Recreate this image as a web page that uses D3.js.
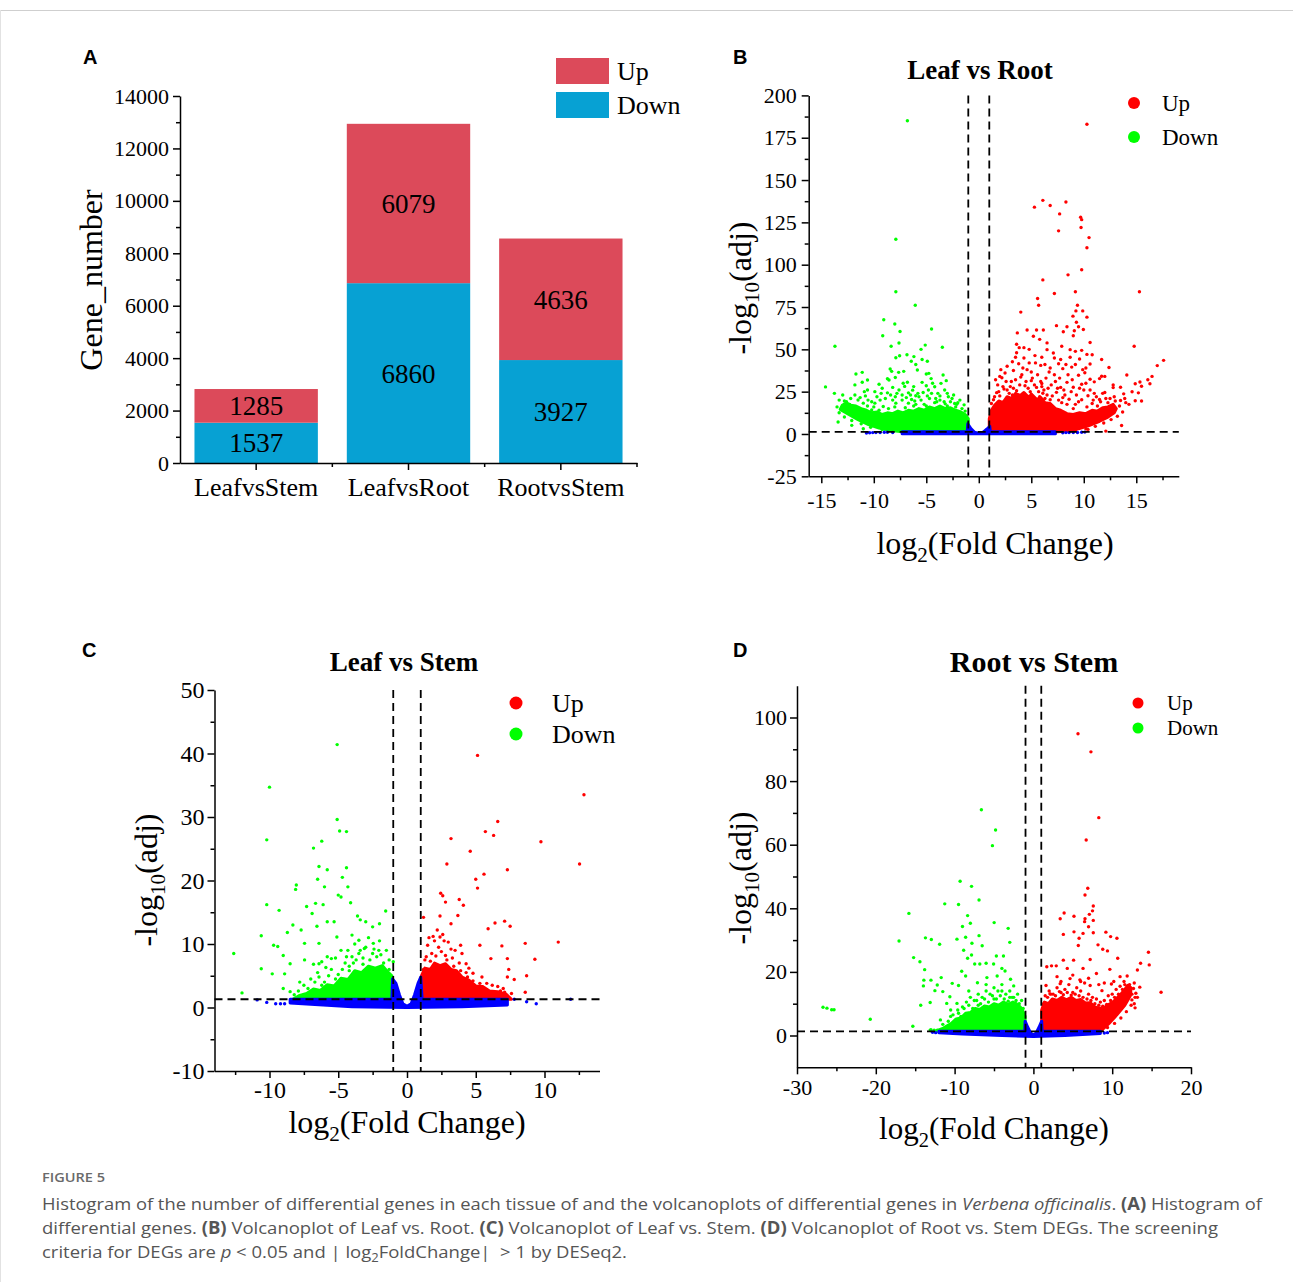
<!DOCTYPE html>
<html>
<head>
<meta charset="utf-8">
<script src="https://cdn.jsdelivr.net/npm/d3@7"></script>
<style>
  body { margin: 0; background: #fff; }
  svg { display: block; }
</style>
</head>
<body>
<svg id="fig" width="1293" height="1282"></svg>
<script>
// ---------- data: panel A (stacked bars) ----------
const barCategories = ["LeafvsStem", "LeafvsRoot", "RootvsStem"];
const barDown = [1537, 6860, 3927];
const barUp = [1285, 6079, 4636];
const barTicks = [0, 2000, 4000, 6000, 8000, 10000, 12000, 14000];
const barMinorTicks = [1000, 3000, 5000, 7000, 9000, 11000, 13000];

// ---------- data: panel B, Leaf vs Root ----------
const lrUp = [[10.3,183],[6.1,138],[5.3,134],[6.8,135],[8.3,137],[7.7,130],[9.7,128],[9.8,126.6],[9.74,122],[7.6,120],
  [10.5,116],[10.3,110],[9.8,97],[6.1,91],[8.5,94],[15.3,84],[7.2,83],[9.2,84],[5.6,80],[5.7,76],[9.4,76],[9.25,72.7],
  [9.9,72.7],[8.97,69.6],[10.3,69],[4.0,72],[14.8,51.8],[17.6,43.5],[17.0,40.4],[16.5,34],[16.1,32],[15.5,28.2],
  [15.35,30.7],[14.9,29.7],[15.5,19.5],[14.9,19.6],[14.1,34.8],[13.5,27.6],[12.8,27.4],[12.0,34],[11.5,32.7],[10.6,32.3],
  [12.4,39.3],[11.7,44],[10.8,46.8],[10.6,54],[13.6,5],[12.1,1.7],[10.4,2.7],[3.67,59.7],[4.6,61.4],[5.5,61.4],[6.15,61.4],
  [7.4,64],[8.4,63.3],[8.05,60.4],[9.1,61],[9.0,58],[3.6,53],[4.3,51],[6.5,53.8],[5.2,57.7],[2.7,40],[3.2,42.7],[2.0,34],
  [9.3,66],[9.5,63.3],[9.96,61.7],[5.8,55.9],[3.85,51],[4.8,50],[6.5,49.8],[7.1,47.8],[7.9,51.8],[8.7,49.8],[9.2,48.8],
  [9.8,49.4],[10.3,47],[3.5,45.3],[4.3,44.9],[5.35,46.3],[6.0,45.3],[7.2,44.9],[8.7,45.3],[9.6,44.3],[10.6,41.3],
  [3.3,37.5],[4.2,39],[5.0,36.6],[5.9,40.5],[6.7,36.6],[8.0,38.6],[8.85,39.5],[9.5,34.7],[10.1,36.2],[11.0,30.8],
  [11.7,34.1],[12.8,28.9],[16.3,29.7],[14.6,24.9],[15.2,24.3],[13.8,23.7],[2.2,33.2],[3.1,31],[4.0,33.6],[5.0,31.5],
  [6.0,29.8],[7.3,31],[8.4,30.5],[9.0,27.6],[9.8,29.4],[1.7,24.4],[2.4,26.6],[3.6,25.6],[4.9,25],[6.1,24.1],[7.4,24.6],
  [8.2,23],[10.4,22.6],[11.5,20.4],[12.3,18.5],[12.9,22],[1.4,20.2],[2.8,20.2],[4.2,20.2],[5.5,19.2],[6.8,20.2],
  [7.9,18.5],[9.2,17.5],[9.8,20.2],[2.0,22.5],[3.2,23],[4.5,22.5],[5.8,22],[7.0,22.5],[8.6,20.5],[9.5,19],[10.8,18],
  [11.3,16.5],[3.0,28],[4.4,28.5],[5.5,27.5],[6.6,27],[7.8,27.5],[8.8,25],[1.8,29],[2.5,36],[3.8,41.5],[4.8,42],
  [6.3,41],[7.6,41.5],[9.2,41],[10.2,39],[13.0,19.5],[13.9,21],[14.3,17.5],[12.0,24.5],[11.0,24],[10.0,26],
  [1.2,18],[1.5,22],[1.9,25],[2.3,28],[2.6,31],[2.9,24],[3.3,27],[3.5,32],[3.9,29],[4.1,35],[4.5,31],[4.7,27],
  [5.1,33],[5.3,29],[5.6,35],[5.9,31],[6.2,26],[6.4,33],[6.9,29],[7.2,35],[7.5,27],[7.7,33],[8.1,26],[8.5,35],
  [8.9,32],[9.3,23],[9.6,27],[10.2,30],[10.6,26],[11.2,22],[11.8,24],[12.5,21],[1.6,32],[2.1,38],[3.6,48],[4.6,38],
  [5.4,42],[6.8,39],[7.8,44],[8.3,41],[9.9,38],[3.4,20.5],[4.8,21.5],[6.3,21],[7.6,20],[8.4,17.5],[9.0,15],[10.3,16],
  [10.9,20],[11.6,19],[12.1,21],[2.4,19],[5.0,23.5],[6.5,23],[8.0,21.5],[3.8,23],[4.3,24],[5.7,25],[2.7,26],[6.0,28],
  [13.4,16.5],[13.7,13],[13.2,10.5],[12.6,8.5],[11.9,6.5],[11.1,4.5],[10.2,3],[9.2,2],[14.0,18.5],[13.5,19.8]];
const lrDown = [[-6.8,185],[-7.9,115],[-7.9,84],[-6.05,76],[-9.05,67.5],[-8.0,65],[-7.5,60.5],[-4.5,62],[-9.15,58],
  [-13.7,51.8],[-8.35,51.8],[-7.6,53.7],[-5.1,52.5],[-5.5,50],[-3.47,51.2],[-7.54,46.2],[-6.84,46.8],[-7.9,45],
  [-6.18,45.7],[-6.43,43],[-5.4,44],[-6.0,41],[-4.9,43],[-11.1,36.4],[-11.7,35.4],[-10.6,31.9],[-11.1,30.6],[-11.8,29],
  [-8.44,38.4],[-8.3,37],[-8.55,31.9],[-7.63,36.4],[-7.15,37],[-5.85,37.8],[-5.0,35.4],[-4.76,35.8],[-4.54,32.7],
  [-3.4,34.8],[-14.6,27.8],[-13.75,24],[-12.96,23],[-12.99,14.2],[-13.4,7.1],[-12.1,5.1],[-11.0,3.1],[-9.5,29.4],
  [-8.7,32.6],[-7.95,33.4],[-7.06,28.1],[-6.8,30.6],[-6.7,24.3],[-6.3,25.9],[-6.0,22.6],[-10.6,26],[-10.55,20],
  [-7.3,23],[-5.0,28.5],[-4.2,27.9],[-3.6,29.9],[-3.25,26],[-2.55,21],[-2.3,18],[-8.7,24.3],[-7.95,22],[-11.5,20.1],
  [-11.0,18.2],[-9.9,18.2],[-9.1,16.2],[-7.9,18.2],[-6.7,18.2],[-5.5,20],[-4.7,21],[-3.7,20],[-2.9,22],[-1.8,20],
  [-1.4,17.2],[-8.2,20],[-6.4,20.4],[-5.8,24],[-4.8,26],[-3.9,24],[-7.6,26],[-9.4,20],[-10.2,14.2],[-12.3,17.5],
  [-12.6,19],[-11.8,16],[-5.2,17.5],[-4.2,18.5],[-3.2,17.8],[-2.2,16],[-6.2,16.5],[-8.6,15],[-10.6,16.5],
  [-12.8,19.5],[-12.2,21],[-11.8,23],[-11.3,21.5],[-10.8,22.5],[-10.2,19],[-9.7,22],[-9.3,24],[-8.9,21],[-8.4,23],
  [-7.8,24],[-7.3,20],[-6.9,21.5],[-6.5,23],[-6.1,19.5],[-5.7,22],[-5.3,24.5],[-4.9,22.5],[-4.5,24],[-4.1,21],
  [-3.7,22.5],[-3.3,19],[-3.0,24],[-2.7,19],[-2.4,23],[-2.1,17.5],[-1.6,15],[-1.3,13.5],[-9.9,25],[-8.2,27.5],
  [-7.2,30],[-6.2,28],[-5.4,30.5],[-4.4,30],[-3.1,31.5],[-10.9,25],[-9.2,27],[-13.3,20],[-12.5,16.5],[-10.0,16],
  [-8.0,16],[-6.0,17.5],[-4.0,19],[-2.0,18.5],[-11.3,14.5],[-9.5,14],[-7.0,15.5],[-5.0,16.5],[-3.0,16.5],
  [-13.5,16],[-13.3,12.5],[-12.8,10],[-12.1,8],[-11.2,6],[-10.3,4],[-9.2,2.6],[-8.2,1.8]];
const lrNs = [[-10.7,0.6],[-10.4,0.7],[-10.1,0.8],[-9.8,0.8],[-9.4,0.9],[-9.0,1.0],[-8.7,1.0],[-8.2,0.9],
  [8.0,0.7],[8.3,0.8],[8.6,0.8],[9.0,0.9],[9.4,0.9],[9.8,1.0],[10.1,1.1]];
// outlines of the solid (fully overlapped) part of each cloud
const lrUpCore = [[1,1.3],[1,9],[1.2,14],[1.5,17],[1.9,19.5],[2.3,18.5],[2.7,22],[3.1,21],[3.5,24],[3.9,22.5],
  [4.3,24.5],[4.7,22],[5.1,23],[5.5,20.5],[5.9,21.5],[6.3,18.5],[6.8,18],[7.3,15],[7.8,14],[8.4,12],[9,11.5],
  [9.6,12.5],[10.2,12],[10.8,14],[11.3,13.5],[11.8,15.5],[12.3,16],[12.8,17.5],[13.1,15],[12.9,12.5],[12.3,10],
  [11.5,7.5],[10.5,5],[9.5,3],[8.5,1.8],[7.5,1.3]];
const lrDownCore = [[-13,17],[-12.6,18.5],[-12.2,17],[-11.7,16.5],[-11.2,15],[-10.7,14],[-10.2,12.5],[-9.7,13],
  [-9.2,11.5],[-8.7,12.5],[-8.2,12],[-7.7,13.5],[-7.2,12.5],[-6.7,14],[-6.2,13.5],[-5.7,15],[-5.2,14],[-4.7,16],
  [-4.2,15],[-3.7,16.5],[-3.2,15],[-2.7,15.5],[-2.2,14],[-1.7,13],[-1.3,11.5],[-1,9],[-1,1.3],[-7.3,1.3],[-8.5,2.2],
  [-9.5,3.5],[-10.5,5.5],[-11.5,8.5],[-12.5,12],[-13.2,14.5]];
const lrNsCore = [[-7.3,1.3],[-1.1,1.3],[-1.05,6],[-0.75,3.2],[-0.4,1],[0,0.3],[0.4,1],[0.75,2.8],[1.05,4.5],
  [1.1,1.3],[7.3,1.3],[7.3,0.2],[-7.3,0.2]];

// ---------- data: panel C, Leaf vs Stem ----------
const lsUp = [[5.13,39.7],[12.87,33.5],[12.55,22.6],[9.74,26.1],[11.0,10.3],[9.3,7.6],[8.6,10.1],[8.7,5.0],[8.6,2.4],
  [6.6,29.3],[5.7,27.7],[6.3,27.1],[3.2,26.6],[4.6,24.6],[2.9,22.6],[5.6,21],[5.0,20.2],[5.13,18.8],[7.3,21.7],
  [2.45,18],[2.6,17.6],[3.8,17],[4.1,16.1],[2.8,16.6],[1.2,14.2],[2.4,14.4],[3.7,14.5],[7.1,13.6],[6.4,13.3],
  [7.5,12.8],[5.9,12.4],[3.2,13.2],[1.9,11.2],[2.4,11.1],[3.0,10.3],[3.9,9.8],[5.3,9.8],[6.9,9.7],[6.1,7.7],[7.3,7.7],
  [7.4,6.0],[7.3,4.8],[7.8,4.4],[5.8,3.8],[6.6,3.3],[4.3,6.9],[4.8,5.4],[5.45,4.8],[1.3,7.5],[1.8,8.5],[2.3,9.5],
  [2.8,8.2],[3.3,7.8],[3.8,7],[4.3,5.5],[4.8,4.2],[5.3,3.8],[5.8,2.8],[6.2,3.5],[6.8,2.6],[1.5,9.8],[2.0,10.5],
  [2.6,11.5],[3.5,9],[4.0,8.5],[2.2,12.2],[7.0,3],[7.6,2.2],[1.2,6],[1.4,8],[1.7,7.3],[2.1,8.1],[2.5,8.8],[2.9,7.5],
  [3.4,6.5],[3.9,5.8],[4.4,4.8],[4.9,3.5],[5.5,3.2],[6.0,2.5],[6.5,2.2],[7.1,2.4],[1.6,11],[2.7,10.5],[3.2,9.2],
  [4.5,6.2]];
const lsDown = [[-5.08,41.4],[-10.0,34.7],[-10.2,26.4],[-5.08,29.6],[-4.9,27.8],[-4.4,27.7],[-6.2,26.2],[-6.8,25.1],
  [-6.4,22.2],[-5.8,21.7],[-4.4,22],[-4.7,20.5],[-6.5,20.2],[-8.05,19.3],[-8.1,18.6],[-6.0,19],[-4.3,19],[-5.0,17.7],
  [-4.8,17.4],[-4.1,16.5],[-10.2,16.2],[-7.3,15.9],[-6.65,16.4],[-6.1,16.2],[-1.55,15.2],[-9.3,15.3],[-6.9,14.8],
  [-5.3,13.5],[-3.6,14.4],[-3.4,13.8],[-3.0,13.5],[-8.3,13],[-7.7,12.2],[-6.55,12.8],[-5.8,13.5],[-2.5,12.7],
  [-2.0,13.2],[-10.6,11.3],[-9.7,9.8],[-9.4,9.6],[-8.7,11.8],[-7.45,10.1],[-6.4,10.1],[-5.1,11.1],[-4.0,11.4],
  [-3.5,10.6],[-12.6,8.5],[-9.0,8.2],[-10.6,6.1],[-9.8,5.3],[-12.0,2.3],[-8.9,5.3],[-8.5,6.9],[-7.45,7.5],[-6.4,6.9],
  [-5.5,7.7],[-4.3,9.0],[-3.1,9.3],[-2.05,9.0],[-2.45,10.1],[-1.0,7.2],[-7.5,3.5],[-7,4.5],[-6.5,5.5],[-6,4],
  [-5.5,6],[-5,5.2],[-4.5,7],[-4,8],[-3.5,8.5],[-3,9.5],[-2.5,8.5],[-2,10.5],[-1.5,9],[-1.3,7.5],[-6.8,6.8],[-5.8,8],
  [-4.8,9],[-3.8,10],[-2.8,11],[-7.8,4],[-8.5,2.5],[-9,3],[-6.2,7.2],[-5.2,7.8],[-4.2,5.8],[-3.2,6.8],
  [-7.2,3],[-6.7,4],[-6.2,3.5],[-5.7,5],[-5.2,4.5],[-4.7,6],[-4.2,6.5],[-3.7,7.5],[-3.2,7.8],[-2.7,7.5],[-2.2,8],
  [-1.7,7],[-1.3,6],[-7.9,2.6],[-8.2,2],[-6.4,4.8],[-5.9,6.3],[-4.4,8],[-3.4,9],[-2.4,9.2],[-1.9,8.3],[-3.9,7]];
const lsNs = [[-10.9,1.2],[-10.2,0.8],[-9.55,0.6],[-9.2,0.6],[-8.9,0.6],[7.8,1.3],[8.7,0.9],[9.4,0.6],[11.9,1.3]];
const lsUpCore = [[1.05,1.3],[1.05,5],[1.3,6.2],[1.7,6],[2.0,7],[2.4,6.6],[2.8,6.9],[3.2,6],[3.6,5.8],[4.0,4.8],
  [4.5,4.3],[5.0,3.4],[5.5,3.3],[6.0,2.6],[6.6,2.5],[7.2,2.1],[7.6,1.3]];
const lsDownCore = [[-8.3,1.3],[-7.8,1.9],[-7.3,2.2],[-6.8,2.9],[-6.3,2.7],[-5.8,3.6],[-5.3,3.4],[-4.8,4.6],
  [-4.3,4.4],[-3.8,5.8],[-3.3,5.5],[-2.8,6.5],[-2.3,6.2],[-1.8,6.6],[-1.4,5.6],[-1.1,5],[-1.05,1.3]];
const lsNsCore = [[-8.5,1.3],[-1.1,1.3],[-1.05,4.5],[-0.8,3.8],[-0.55,2],[-0.3,0.6],[0,0.2],[0.3,0.6],[0.55,2],
  [0.8,3.8],[1.0,4.8],[1.1,1.3],[7.3,1.3],[7.3,0.4],[4,0.1],[0,0],[-4,0.1],[-8.5,0.7]];

// ---------- data: panel D, Root vs Stem ----------
const rsUp = [[5.66,94.9],[7.3,89.2],[8.3,68.5],[6.7,61.5],[6.9,46.3],[6.55,44.2],[7.6,40.7],[7.5,39.2],[6.55,36.7],
  [6.5,35.8],[7.1,38.1],[3.9,38.5],[3.4,36.7],[5.15,37.5],[7.6,36.2],[7.0,34.2],[3.8,31.8],[5.15,32.6],[6.3,32.1],
  [7.6,32.3],[9.2,32.5],[9.8,31.1],[10.6,30.6],[5.8,30.6],[5.7,28.3],[8.2,28.5],[8.8,27.1],[9.4,26.6],[14.6,26.2],
  [14.7,22.2],[13.6,22.7],[13.2,20.6],[16.2,13.6],[10.7,24.3],[9.7,20.8],[11.0,18.5],[11.9,18.7],[12.8,16.5],
  [13.0,13.3],[12.5,11.2],[12.9,8.7],[1.7,21.6],[2.3,21.9],[2.9,21.9],[3.8,23.7],[4.3,21.1],[5.1,23.7],[6.3,21.1],
  [7.2,23.9],[8.0,19.5],[1.6,15.7],[2.1,13.1],[3.4,16.3],[4.65,17.9],[5.9,17.5],[7.2,15.7],[8.7,14.1],[9.9,16.2],
  [1.6,8.3],[1.5,12.5],[2,14],[2.5,13],[3,15],[3.5,13.5],[4,14.5],[4.5,16],[5,13.5],[5.5,15],[6,14],[6.5,16.5],
  [7,13],[7.5,12],[8,11.5],[8.5,10.5],[9,11],[9.5,12.5],[10,13],[10.5,14.5],[11,15.5],[11.5,17],[12,14.5],[12.5,13],
  [3,18.5],[5,19],[7,18],[9,16.5],[10.2,17],[12.8,10],[13.2,12],[1.3,10],[1.8,12],[2.2,13],[2.8,12.5],[3.3,13.8],
  [3.8,12.8],[4.3,13.5],[4.8,12.7],[5.3,13],[5.8,12.5],[6.3,12],[6.8,11.5],[7.3,11],[7.8,10],[8.3,9.5],[8.8,9.2],
  [9.3,9.8],[9.8,11],[10.3,12],[10.8,13],[11.3,14.5],[11.6,16],[12.2,16],[3.5,17],[6,17],[8.3,16],
  [12.7,14.8],[12.9,12],[12.4,9.5],[11.8,7.5],[11.1,5.5],[10.3,3.8],[9.4,2.5],[13.5,15.2]];
const rsDown = [[-6.6,71],[-4.8,64.6],[-5.2,59.7],[-9.3,48.5],[-7.85,46.9],[-6.9,42.6],[-11.25,41.4],[-9.5,41.2],
  [-15.8,38.4],[-8.35,37.7],[-8.0,35.3],[-9.0,34.3],[-4.98,35.5],[-3.2,33.7],[-17.05,29.7],[-13.7,30.7],[-12.95,30.2],
  [-11.9,28.7],[-9.7,30.3],[-8.6,30.9],[-6.9,31.4],[-7.8,29],[-6.5,28.2],[-3.0,29.3],[-15.2,24.5],[-14.4,23.2],
  [-13.8,20.7],[-8.85,26.8],[-8.35,24.3],[-7.85,25.3],[-7.45,22.5],[-9.1,20.2],[-6.8,22.5],[-6.0,22.7],[-4.7,25],
  [-3.8,25],[-5.05,22.5],[-4.0,21.1],[-13.9,17.4],[-13.0,17.4],[-11.7,18.2],[-13.96,15.6],[-12.5,14.1],[-12.2,15.9],
  [-11.5,13.8],[-10.3,16.4],[-9.5,15.7],[-14.3,9.5],[-13.1,10.4],[-15.3,2.9],[-20.7,5.1],[-26.7,8.9],[-26.2,8.6],
  [-25.6,8.1],[-25.3,8.1],[-11.8,4.9],[-11.0,10.1],[-10.6,12.2],[-8.6,18.7],[-7.1,16.6],[-5.9,18.2],[-4.6,18.7],
  [-3.6,20.3],[-2.9,17.7],[-2.5,15.6],[-10.5,8.0],[-9.7,10.1],[-13.1,1.7],[-12.2,1.7],[-13,1.8],[-12.6,1.7],
  [-11.8,1.6],[-11.4,1.5],[-10.5,6],[-9.5,7],[-9,9],[-8.5,10.5],[-8,12],[-7.5,11],[-7,13],[-6.5,12],[-6,14],
  [-5.5,13],[-5,15],[-4.5,14],[-4,16],[-3.5,13],[-3,14],[-2.5,12],[-2,13],[-1.5,11],[-7,9.5],[-5,11.5],[-3,12],
  [-11.5,3.5],[-10,4],[-10.8,4.5],[-10.2,6.5],[-9.6,8],[-9.2,6],[-8.8,8.5],[-8.2,9.5],[-7.7,8.5],[-7.2,11],
  [-6.7,10],[-6.2,11.5],[-5.7,10.5],[-5.2,12.5],[-4.7,11.5],[-4.2,12.5],[-3.7,11.5],[-3.2,10.8],[-2.7,12],[-2.2,11],
  [-1.8,10],[-1.3,8.5],[-6,16],[-4,14],[-8.2,14]];
const rsNs = [[-12.8,1.0],[-12.4,0.9],[9.0,0.8],[9.4,0.9]];
const rsUpCore = [[1.05,1.3],[1.05,8],[1.4,10.5],[1.9,10],[2.4,11.5],[3,11],[3.6,12],[4.2,11.2],[4.8,12],[5.4,11],
  [6,11.3],[6.6,10.2],[7.2,10.3],[7.8,9],[8.4,8.6],[9,8.8],[9.6,9.8],[10.1,10.5],[10.6,11.8],[11.1,13],[11.6,14.5],
  [12,15.8],[12.4,15],[12.3,12.5],[11.6,9.5],[10.6,6.5],[9.6,3.8],[8.5,1.3]];
const rsDownCore = [[-12.5,1.3],[-11.5,2.2],[-11,3],[-10.4,3.8],[-9.8,5.2],[-9.2,5.5],[-8.6,7],[-8,7.2],[-7.4,8.5],
  [-6.8,8.2],[-6.2,9.3],[-5.6,9],[-5,10],[-4.4,9.5],[-3.8,10.5],[-3.2,9.8],[-2.6,10.5],[-2,9.8],[-1.5,8.5],[-1.05,6],
  [-1.05,1.3]];
const rsNsCore = [[-12,1.3],[-1.1,1.3],[-1.05,4.5],[-0.7,2.5],[-0.35,0.8],[0,0.2],[0.35,0.8],[0.7,2.5],[1.05,4.5],
  [1.1,1.3],[8.5,1.3],[8.5,0.6],[4,0],[0,-0.3],[-4,0],[-9,0.5],[-12,0.9]];

// ---------- drawing ----------
const SERIF = "'Liberation Serif','Times New Roman',serif";
const SANS = "'Liberation Sans',Arial,sans-serif";
const RED = "#ff0000", GREEN = "#00ff00", BLUE = "#0000ff";
const BAR_RED = "#dc4a5a", BAR_BLUE = "#07a1d3";
const PVAL = 1.3; // -log10(0.05)

const svg = d3.select("#fig");

// page frame
svg.append("line").attr("x1", 0).attr("x2", 1293).attr("y1", 10.5).attr("y2", 10.5)
  .attr("stroke", "#cfcfcf").attr("stroke-width", 1);
svg.append("line").attr("x1", 0.5).attr("x2", 0.5).attr("y1", 10).attr("y2", 1282)
  .attr("stroke", "#e2e2e2").attr("stroke-width", 1);

function styleAxis(sel, fs) {
  sel.attr("font-family", SERIF).attr("font-size", fs);
  sel.select(".domain").attr("stroke-width", 1.5);
  sel.selectAll(".tick line").attr("stroke-width", 1.5);
  sel.selectAll(".tick text").attr("fill", "#000").attr("font-family", SERIF).attr("font-size", fs);
}

function panelLetter(txt, x, y) {
  svg.append("text").attr("x", x).attr("y", y).attr("font-family", SANS).attr("font-weight", "bold")
    .attr("font-size", 20).text(txt);
}

// panel A
(function () {
  const x = d3.scaleBand().domain(barCategories).range([180, 637]).paddingInner(0.19).paddingOuter(0.095);
  const y = d3.scaleLinear().domain([0, 14000]).range([463, 96]);
  const rows = barCategories.map((c, i) => ({ c: c, down: barDown[i], up: barUp[i] }));
  const g = svg.append("g");

  g.selectAll("rect.down").data(rows).join("rect").attr("class", "down")
    .attr("x", d => x(d.c)).attr("width", x.bandwidth())
    .attr("y", d => y(d.down)).attr("height", d => y(0) - y(d.down)).attr("fill", BAR_BLUE);
  g.selectAll("rect.up").data(rows).join("rect").attr("class", "up")
    .attr("x", d => x(d.c)).attr("width", x.bandwidth())
    .attr("y", d => y(d.down + d.up)).attr("height", d => y(d.down) - y(d.down + d.up)).attr("fill", BAR_RED);

  g.selectAll("text.vd").data(rows).join("text").attr("class", "vd")
    .attr("x", d => x(d.c) + x.bandwidth() / 2).attr("y", d => (y(0) + y(d.down)) / 2)
    .attr("dy", "0.35em").attr("text-anchor", "middle")
    .attr("font-family", SERIF).attr("font-size", 27).text(d => d.down);
  g.selectAll("text.vu").data(rows).join("text").attr("class", "vu")
    .attr("x", d => x(d.c) + x.bandwidth() / 2).attr("y", d => (y(d.down) + y(d.down + d.up)) / 2)
    .attr("dy", "0.35em").attr("text-anchor", "middle")
    .attr("font-family", SERIF).attr("font-size", 27).text(d => d.up);

  g.append("g").attr("transform", "translate(180,0)")
    .call(d3.axisLeft(y).tickValues(barMinorTicks).tickSize(4).tickFormat(""))
    .call(s => s.select(".domain").remove())
    .call(s => styleAxis(s, 22));
  g.append("g").attr("transform", "translate(180,0)")
    .call(d3.axisLeft(y).tickValues(barTicks).tickSize(7).tickSizeOuter(0).tickPadding(4).tickFormat(d => String(d)))
    .call(s => styleAxis(s, 22));

  // boundary ticks between categories
  const bounds = d3.range(1, barCategories.length + 1).map(k => x.range()[0] + k * x.step());
  g.selectAll("line.bt").data(bounds).join("line").attr("class", "bt")
    .attr("x1", d => d).attr("x2", d => d).attr("y1", y(0)).attr("y2", y(0) + 4)
    .attr("stroke", "#000").attr("stroke-width", 1.5);
  g.append("g").attr("transform", `translate(0,${y(0)})`)
    .call(d3.axisBottom(x).tickSize(7).tickSizeOuter(0).tickPadding(8))
    .call(s => styleAxis(s, 26));

  g.append("text").attr("transform", "translate(102,280) rotate(-90)").attr("text-anchor", "middle")
    .attr("font-family", SERIF).attr("font-size", 32).text("Gene_number");

  // legend
  const leg = [{ k: "Up", c: BAR_RED, y: 58 }, { k: "Down", c: BAR_BLUE, y: 92 }];
  g.selectAll("rect.lg").data(leg).join("rect").attr("class", "lg")
    .attr("x", 556).attr("y", d => d.y).attr("width", 53).attr("height", 26).attr("fill", d => d.c);
  g.selectAll("text.lg").data(leg).join("text").attr("class", "lg")
    .attr("x", 617).attr("y", d => d.y + 22).attr("font-family", SERIF).attr("font-size", 26).text(d => d.k);

  panelLetter("A", 83, 64);
})();

function xTitle(cx, by, fs) {
  const t = svg.append("text").attr("x", cx).attr("y", by).attr("text-anchor", "middle")
    .attr("font-family", SERIF).attr("font-size", fs);
  t.append("tspan").text("log");
  t.append("tspan").attr("font-size", fs * 0.66).attr("dy", fs * 0.25).text("2");
  t.append("tspan").attr("dy", -fs * 0.25).text("(Fold Change)");
}
function yTitle(bx, cy, fs) {
  const t = svg.append("text").attr("transform", `translate(${bx},${cy}) rotate(-90)`).attr("text-anchor", "middle")
    .attr("font-family", SERIF).attr("font-size", fs);
  t.append("tspan").text("-log");
  t.append("tspan").attr("font-size", fs * 0.66).attr("dy", fs * 0.25).text("10");
  t.append("tspan").attr("dy", -fs * 0.25).text("(adj)");
}

function volcano(c) {
  const x = d3.scaleLinear().domain(c.xDomain).range(c.xRange);
  const y = d3.scaleLinear().domain(c.yDomain).range(c.yRange);
  const g = svg.append("g");
  const shape = d3.line().x(d => x(d[0])).y(d => y(d[1])).curve(d3.curveLinearClosed);

  function cloud(core, pts, col) {
    g.append("path").datum(core).attr("d", shape).attr("fill", col)
      .attr("stroke", col).attr("stroke-width", 3).attr("stroke-linejoin", "round");
    g.append("g").selectAll("circle").data(pts).join("circle")
      .attr("cx", d => x(d[0])).attr("cy", d => y(d[1])).attr("r", 1.7).attr("fill", col);
  }
  cloud(c.downCore, c.down, GREEN);
  cloud(c.upCore, c.up, RED);
  cloud(c.nsCore, c.ns, BLUE);

  // thresholds
  const dash = "8,5";
  g.selectAll("line.vt").data([-1, 1]).join("line").attr("class", "vt")
    .attr("x1", d => x(d)).attr("x2", d => x(d)).attr("y1", c.yRange[1]).attr("y2", c.yRange[0])
    .attr("stroke", "#000").attr("stroke-width", 1.8).attr("stroke-dasharray", dash);
  g.append("line").attr("x1", c.xRange[0]).attr("x2", c.xRange[1]).attr("y1", y(PVAL)).attr("y2", y(PVAL))
    .attr("stroke", "#000").attr("stroke-width", 1.8).attr("stroke-dasharray", dash);

  // axes
  const x0 = c.xRange[0], y0 = c.yRange[0];
  g.append("g").attr("transform", `translate(${x0},0)`)
    .call(d3.axisLeft(y).tickValues(c.yMinor).tickSize(4).tickFormat(""))
    .call(s => s.select(".domain").remove()).call(s => styleAxis(s, c.fs));
  g.append("g").attr("transform", `translate(${x0},0)`)
    .call(d3.axisLeft(y).tickValues(c.yTicks).tickSize(7).tickSizeOuter(0).tickPadding(c.yPad).tickFormat(d => String(d)))
    .call(s => styleAxis(s, c.fs));
  g.append("g").attr("transform", `translate(0,${y0})`)
    .call(d3.axisBottom(x).tickValues(c.xMinor).tickSize(4).tickFormat(""))
    .call(s => s.select(".domain").remove()).call(s => styleAxis(s, c.fs));
  g.append("g").attr("transform", `translate(0,${y0})`)
    .call(d3.axisBottom(x).tickValues(c.xTicks).tickSize(7).tickSizeOuter(0).tickPadding(c.xPad).tickFormat(d => String(d)))
    .call(s => styleAxis(s, c.fs));

  // title
  svg.append("text").attr("x", c.title[1]).attr("y", c.title[2]).attr("text-anchor", "middle")
    .attr("font-family", SERIF).attr("font-weight", "bold").attr("font-size", c.title[3]).text(c.title[0]);

  // legend
  const L = c.legend;
  const items = [{ k: "Up", col: RED }, { k: "Down", col: GREEN }];
  const lg = svg.append("g");
  lg.selectAll("circle").data(items).join("circle")
    .attr("cx", L.x).attr("cy", (d, i) => L.y + i * L.gap).attr("r", L.r).attr("fill", d => d.col);
  lg.selectAll("text").data(items).join("text")
    .attr("x", L.tx).attr("y", (d, i) => L.y + i * L.gap).attr("dy", "0.35em")
    .attr("font-family", SERIF).attr("font-size", L.fs).text(d => d.k);

  xTitle(c.xt[0], c.xt[1], c.xt[2]);
  yTitle(c.yt[0], c.yt[1], c.yt[2]);
}

volcano({
  xDomain: [-16.2, 19.05], xRange: [808.7, 1178.8],
  yDomain: [-25, 200], yRange: [476.3, 95.4],
  xTicks: [-15, -10, -5, 0, 5, 10, 15], xMinor: [-12.5, -7.5, -2.5, 2.5, 7.5, 12.5, 17.5],
  yTicks: [-25, 0, 25, 50, 75, 100, 125, 150, 175, 200],
  yMinor: [-12.5, 12.5, 37.5, 62.5, 87.5, 112.5, 137.5, 162.5, 187.5],
  fs: 22, xPad: 9, yPad: 5,
  up: lrUp, down: lrDown, ns: lrNs, upCore: lrUpCore, downCore: lrDownCore, nsCore: lrNsCore,
  title: ["Leaf vs Root", 980, 79, 27],
  legend: { x: 1134, y: 103, gap: 34, r: 6, tx: 1162, fs: 23 },
  xt: [995, 554, 32], yt: [751, 288, 32]
});
panelLetter("B", 733, 64);

volcano({
  xDomain: [-14, 14], xRange: [214.5, 599.5],
  yDomain: [-10, 50], yRange: [1071, 690],
  xTicks: [-10, -5, 0, 5, 10], xMinor: [-12.5, -7.5, -2.5, 2.5, 7.5, 12.5],
  yTicks: [-10, 0, 10, 20, 30, 40, 50], yMinor: [-5, 5, 15, 25, 35, 45],
  fs: 24, xPad: 3, yPad: 3,
  up: lsUp, down: lsDown, ns: lsNs, upCore: lsUpCore, downCore: lsDownCore, nsCore: lsNsCore,
  title: ["Leaf vs Stem", 404, 671, 27],
  legend: { x: 516, y: 703, gap: 31, r: 6.5, tx: 552, fs: 26 },
  xt: [407, 1133, 32], yt: [157, 880, 32]
});
panelLetter("C", 82, 657);

volcano({
  xDomain: [-30, 20], xRange: [797, 1191],
  yDomain: [-10, 110], yRange: [1067.3, 685.7],
  xTicks: [-30, -20, -10, 0, 10, 20], xMinor: [-25, -15, -5, 5, 15],
  yTicks: [0, 20, 40, 60, 80, 100], yMinor: [10, 30, 50, 70, 90],
  fs: 22, xPad: 5, yPad: 3,
  up: rsUp, down: rsDown, ns: rsNs, upCore: rsUpCore, downCore: rsDownCore, nsCore: rsNsCore,
  title: ["Root vs Stem", 1034, 672, 30],
  legend: { x: 1138, y: 703, gap: 25, r: 5.5, tx: 1167, fs: 21 },
  xt: [994, 1139, 31], yt: [751, 878, 32]
});
panelLetter("D", 733, 657);

// ---------- caption ----------
const CAP = "'Open Sans','Noto Sans',sans-serif";
svg.append("text").attr("x", 42).attr("y", 1182).attr("font-family", CAP).attr("font-size", 13)
  .attr("font-weight", 600).attr("fill", "#6a6a6a").attr("textLength", 63).attr("lengthAdjust", "spacingAndGlyphs")
  .text("FIGURE 5");

const capLines = [
  { y: 1210, w: 1220, parts: [["Histogram of the number of differential genes in each tissue of and the volcanoplots of differential genes in ", ""],
    ["Verbena officinalis", "i"], [". ", ""], ["(A)", "b"], [" Histogram of", ""]] },
  { y: 1234, w: 1176, parts: [["differential genes. ", ""], ["(B)", "b"], [" Volcanoplot of Leaf vs. Root. ", ""], ["(C)", "b"],
    [" Volcanoplot of Leaf vs. Stem. ", ""], ["(D)", "b"], [" Volcanoplot of Root vs. Stem DEGs. The screening", ""]] },
  { y: 1258, w: 585, parts: [["criteria for DEGs are ", ""], ["p", "i"], [" < 0.05 and | log", ""], ["2", "sub"],
    ["FoldChange|  > 1 by DESeq2.", "up"]] }
];
capLines.forEach(l => {
  const t = svg.append("text").attr("x", 42).attr("y", l.y).attr("font-family", CAP).attr("font-size", 17)
    .attr("fill", "#555").attr("textLength", l.w).attr("lengthAdjust", "spacingAndGlyphs")
    .attr("xml:space", "preserve");
  l.parts.forEach(p => {
    const s = t.append("tspan").text(p[0]);
    if (p[1] === "i") s.attr("font-style", "italic");
    if (p[1] === "b") s.attr("font-weight", "bold");
    if (p[1] === "sub") s.attr("font-size", 12).attr("dy", 4);
    if (p[1] === "up") s.attr("dy", -4);
  });
});
</script>
</body>
</html>
